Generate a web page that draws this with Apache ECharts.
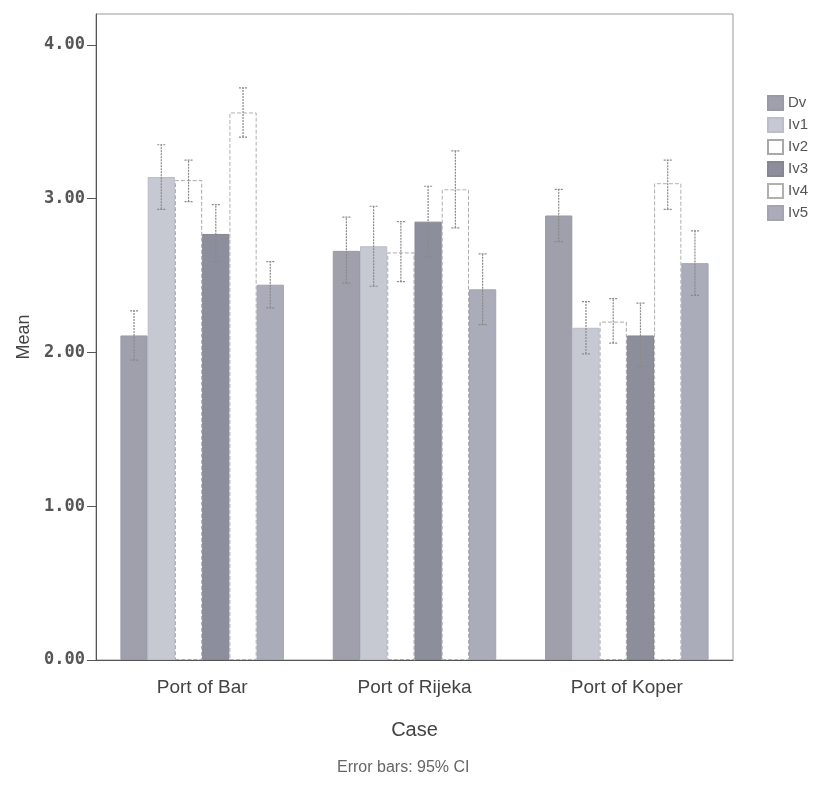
<!DOCTYPE html>
<html>
<head>
<meta charset="utf-8">
<script src="https://cdn.jsdelivr.net/npm/echarts@6/dist/echarts.min.js"></script>
<style>
  html, body { margin: 0; padding: 0; background: #fff; }
  #chart { width: 816px; height: 790px; }
</style>
</head>
<body>
<div id="chart"></div>
<script>
// values
const categories = ["Port of Bar", "Port of Rijeka", "Port of Koper"];
const seriesNames = ["Dv", "Iv1", "Iv2", "Iv3", "Iv4", "Iv5"];
const yTicks = [0, 1, 2, 3, 4];

const meanDv = [2.11, 2.66, 2.89];
const meanIv1 = [3.14, 2.69, 2.16];
const meanIv2 = [3.12, 2.65, 2.20];
const meanIv3 = [2.77, 2.85, 2.11];
const meanIv4 = [3.56, 3.06, 3.10];
const meanIv5 = [2.44, 2.41, 2.58];

// 95% CI, low / high
const lowDv = [1.95, 2.45, 2.72];
const highDv = [2.27, 2.88, 3.06];
const lowIv1 = [2.93, 2.43, 1.99];
const highIv1 = [3.35, 2.95, 2.33];
const lowIv2 = [2.98, 2.46, 2.06];
const highIv2 = [3.25, 2.85, 2.35];
const lowIv3 = [2.59, 2.62, 1.91];
const highIv3 = [2.96, 3.08, 2.32];
const lowIv4 = [3.40, 2.81, 2.93];
const highIv4 = [3.72, 3.31, 3.25];
const lowIv5 = [2.29, 2.18, 2.37];
const highIv5 = [2.59, 2.64, 2.79];

const means = [meanDv, meanIv1, meanIv2, meanIv3, meanIv4, meanIv5];
const lows = [lowDv, lowIv1, lowIv2, lowIv3, lowIv4, lowIv5];
const highs = [highDv, highIv1, highIv2, highIv3, highIv4, highIv5];

const fills = ["#9fa0ac", "#c6c8d2", "#ffffff", "#8c8e9b", "#ffffff", "#aaacba"];
const borders = ["#989aa6", "#bbbdc8", "#a8a8a8", "#848693", "#b0b0b0", "#a2a4b1"];
const dashed = [false, false, true, false, true, false];

const CAT_GAP = 0.23;

var chartDom = document.getElementById("chart");
var myChart = echarts.init(chartDom);

function makeBar(i) {
  return {
    name: seriesNames[i],
    type: "bar",
    barGap: "0%",
    barCategoryGap: CAT_GAP * 100 + "%",
    data: means[i],
    itemStyle: {
      color: fills[i],
      borderColor: borders[i],
      borderWidth: 1,
      borderType: dashed[i] ? "dashed" : "solid",
    },
  };
}

function makeErr(i) {
  return {
    name: seriesNames[i],
    type: "custom",
    z: 5,
    data: categories.map((c, k) => [k, lows[i][k], highs[i][k]]),
    renderItem: function (params, api) {
      var k = api.value(0);
      var band = api.size([1, 0])[0];
      var barW = (band * (1 - CAT_GAP)) / 6;
      var x = api.coord([k, 0])[0] + (i - 2.5) * barW;
      var yLo = api.coord([k, api.value(1)])[1];
      var yHi = api.coord([k, api.value(2)])[1];
      var cap = 4;
      var style = { stroke: "#8a8a8a", lineWidth: 1.2, lineDash: [2, 1] };
      return {
        type: "group",
        children: [
          { type: "line", shape: { x1: x, y1: yLo, x2: x, y2: yHi }, style: style },
          { type: "line", shape: { x1: x - cap, y1: yHi, x2: x + cap, y2: yHi }, style: style },
          { type: "line", shape: { x1: x - cap, y1: yLo, x2: x + cap, y2: yLo }, style: style },
        ],
      };
    },
    tooltip: { show: false },
  };
}

var series = [];
for (var i = 0; i < seriesNames.length; i++) series.push(makeBar(i));
for (var i = 0; i < seriesNames.length; i++) series.push(makeErr(i));

var option = {
  animation: false,
  textStyle: { fontFamily: "Liberation Sans" },
  grid: {
    left: 96,
    right: 83,
    top: 14,
    bottom: 130,
    show: true,
    borderColor: "#999",
    borderWidth: 1,
  },
  legend: {
    data: seriesNames,
    orient: "vertical",
    left: 762,
    top: 90,
    icon: "rect",
    itemWidth: 15,
    itemHeight: 14,
    itemGap: 6,
    textStyle: { fontSize: 15, color: "#555", fontFamily: "Liberation Sans" },
  },
  xAxis: {
    type: "category",
    data: categories,
    name: "Case",
    nameLocation: "middle",
    nameGap: 60,
    nameTextStyle: { fontSize: 20, color: "#444", fontFamily: "Liberation Sans" },
    axisLine: { lineStyle: { color: "#555" } },
    axisTick: { alignWithLabel: true, length: 10, lineStyle: { color: "#555" } },
    axisLabel: { fontSize: 19, color: "#444", margin: 18, interval: 0 },
  },
  yAxis: {
    type: "value",
    min: 0,
    max: 4.2,
    interval: 1,
    name: "Mean",
    nameLocation: "middle",
    nameGap: 60,
    nameTextStyle: { fontSize: 18, color: "#444", fontFamily: "Liberation Sans" },
    splitLine: { show: false },
    axisLine: { show: true, lineStyle: { color: "#555" } },
    axisTick: { show: true, length: 9, customValues: yTicks, lineStyle: { color: "#555" } },
    axisLabel: {
      fontSize: 17,
      color: "#555",
      fontFamily: "DejaVu Sans Mono",
      fontWeight: "bold",
      margin: 11,
      customValues: yTicks,
      formatter: function (v) {
        return v.toFixed(2);
      },
    },
  },
  graphic: [
    {
      type: "text",
      left: 337,
      top: 760,
      style: {
        text: "Error bars: 95% CI",
        fontSize: 16,
        fill: "#666",
        fontFamily: "Liberation Sans",
      },
    },
  ],
  series: series,
};

myChart.setOption(option);
</script>
</body>
</html>
